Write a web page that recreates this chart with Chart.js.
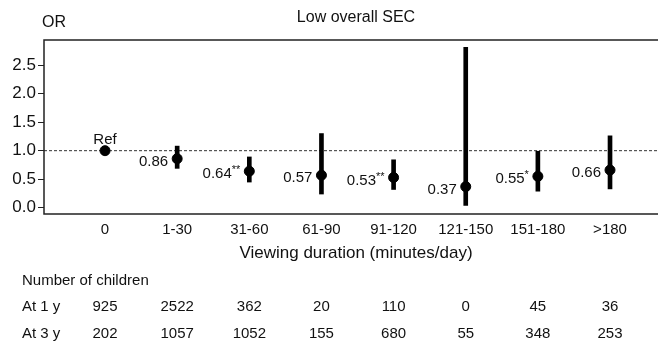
<!DOCTYPE html>
<html>
<head>
<meta charset="utf-8">
<script src="https://cdn.jsdelivr.net/npm/chart.js@4.4.1/dist/chart.umd.min.js"></script>
<style>
  html, body { margin: 0; padding: 0; background: #fff; }
  #wrap { width: 658px; height: 344px; }
</style>
</head>
<body>
<div id="wrap"><canvas id="orChart" width="658" height="344"></canvas></div>
<script>
// data
const categories = ['0', '1-30', '31-60', '61-90', '91-120', '121-150', '151-180', '>180'];
const orValues = [1.00, 0.86, 0.64, 0.57, 0.53, 0.37, 0.55, 0.66];
const ciLower = [null, 0.69, 0.45, 0.24, 0.32, 0.04, 0.29, 0.33];
const ciUpper = [null, 1.08, 0.89, 1.30, 0.84, 2.81, 0.99, 1.26];
const valueLabels = ['Ref', '0.86', '0.64', '0.57', '0.53', '0.37', '0.55', '0.66'];
const stars = ['', '', '**', '', '**', '', '*', ''];
const countsAt1y = [925, 2522, 362, 20, 110, 0, 45, 36];
const countsAt3y = [202, 1057, 1052, 155, 680, 55, 348, 253];
const yTicks = [0, 0.5, 1.0, 1.5, 2.0, 2.5];

const FONT = '"Liberation Sans", Arial, Helvetica, sans-serif';

const ciData = categories.map((c, i) => ciLower[i] == null ? null : { x: i, y: [ciLower[i], ciUpper[i]] }).filter(d => d);
const pointData = categories.map((c, i) => ({ x: i, y: orValues[i] }));

// extra drawing: frame, reference line, labels, table
const extrasPlugin = {
    id: 'extras',
    beforeDatasetsDraw(chart) {
        const { ctx, chartArea } = chart;
        const y = chart.scales.y;
        ctx.save();
        ctx.strokeStyle = '#333';
        ctx.lineWidth = 1;
        ctx.setLineDash([3, 2]);
        ctx.beginPath();
        ctx.moveTo(chartArea.left, y.getPixelForValue(1));
        ctx.lineTo(chart.width, y.getPixelForValue(1));
        ctx.stroke();
        ctx.restore();
    },
    afterDraw(chart) {
        const { ctx, chartArea } = chart;
        const x = chart.scales.x;
        const y = chart.scales.y;
        ctx.save();
        ctx.fillStyle = '#111';

        // frame (right side runs off the picture)
        ctx.strokeStyle = '#222';
        ctx.lineWidth = 1.5;
        ctx.beginPath();
        ctx.moveTo(chart.width, chartArea.top);
        ctx.lineTo(chartArea.left, chartArea.top);
        ctx.lineTo(chartArea.left, chartArea.bottom);
        ctx.lineTo(chart.width, chartArea.bottom);
        ctx.stroke();

        // OR + title
        ctx.textBaseline = 'middle';
        ctx.textAlign = 'left';
        ctx.font = '16px ' + FONT;
        ctx.fillText('OR', 42, 23);
        ctx.textAlign = 'center';
        ctx.font = '16px ' + FONT;
        ctx.fillText('Low overall SEC', 356, 18);

        // point labels
        categories.forEach((c, i) => {
            const px = x.getPixelForValue(i);
            const py = y.getPixelForValue(orValues[i]);
            if (i === 0) {
                ctx.font = '15px ' + FONT;
                ctx.textAlign = 'center';
                ctx.fillText(valueLabels[i], px, py - 11);
                return;
            }
            ctx.font = '11px ' + FONT;
            const sw = stars[i] ? ctx.measureText(stars[i]).width : 0;
            const right = px - 9;
            ctx.textAlign = 'right';
            if (stars[i]) ctx.fillText(stars[i], right, py - 1);
            ctx.font = '15px ' + FONT;
            ctx.fillText(valueLabels[i], right - sw, py + 3);
        });

        // axis title
        ctx.textAlign = 'center';
        ctx.font = '17px ' + FONT;
        ctx.fillText('Viewing duration (minutes/day)', 356, 253);

        // number of children table
        ctx.font = '15px ' + FONT;
        ctx.textAlign = 'left';
        ctx.fillText('Number of children', 22, 281);
        ctx.fillText('At 1 y', 22, 307);
        ctx.fillText('At 3 y', 22, 334);
        ctx.textAlign = 'center';
        categories.forEach((c, i) => {
            const px = x.getPixelForValue(i);
            ctx.fillText(String(countsAt1y[i]), px, 307);
            ctx.fillText(String(countsAt3y[i]), px, 334);
        });
        ctx.restore();
    }
};

new Chart(document.getElementById('orChart'), {
    data: {
        datasets: [{
            type: 'bar',
            data: ciData,
            backgroundColor: '#000',
            borderWidth: 0,
            barThickness: 4,
            grouped: false
        }, {
            type: 'scatter',
            data: pointData,
            backgroundColor: '#000',
            borderColor: '#000',
            pointRadius: 5,
            pointHoverRadius: 5
        }]
    },
    options: {
        responsive: false,
        animation: false,
        layout: { padding: { top: 40, right: 0, left: 0, bottom: 0 } },
        plugins: {
            legend: { display: false },
            tooltip: { enabled: false },
            title: { display: false }
        },
        scales: {
            x: {
                type: 'linear',
                offset: false,
                min: -0.846,
                max: 7.582,
                afterBuildTicks: (scale) => { scale.ticks = categories.map((c, i) => ({ value: i })); },
                afterFit: (scale) => { scale.height = 130; },
                grid: { display: false, drawTicks: false },
                border: { display: false },
                ticks: {
                    padding: 7,
                    color: '#111',
                    font: { family: FONT, size: 15 },
                    maxRotation: 0,
                    autoSkip: false,
                    callback: (v) => categories[v]
                }
            },
            y: {
                min: -0.11,
                max: 2.94,
                afterBuildTicks: (scale) => { scale.ticks = yTicks.map(v => ({ value: v })); },
                afterFit: (scale) => { scale.width = 44; },
                grid: { drawOnChartArea: false, drawTicks: true, tickLength: 6, color: '#222' },
                border: { display: false },
                ticks: {
                    padding: 2,
                    color: '#111',
                    font: { family: FONT, size: 17 },
                    callback: (v) => v.toFixed(1)
                }
            }
        }
    },
    plugins: [extrasPlugin]
});
</script>
</body>
</html>
